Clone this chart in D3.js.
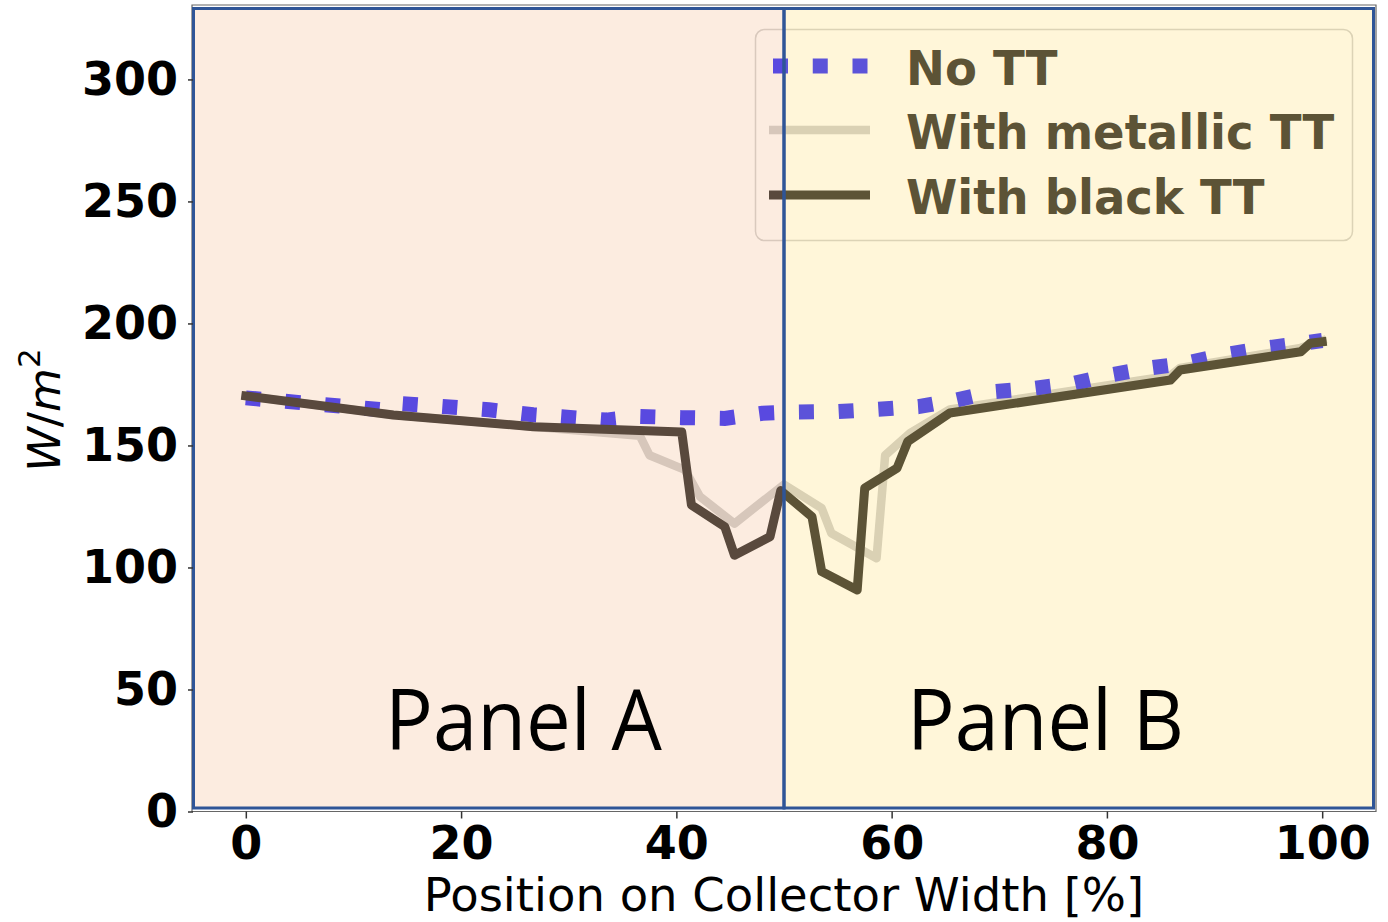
<!DOCTYPE html>
<html>
<head>
<meta charset="utf-8">
<script src="https://cdn.jsdelivr.net/npm/d3@7"></script>
<style>
  body { margin: 0; background: #fff; }
  svg { display: block; }
</style>
</head>
<body>
<script>
// Irradiance across the collector width (W/m²) for three tracking-tube setups
const noTTX    = [0, 12.8, 14, 22.6, 26.7, 33.5, 36.6, 40.5, 44.5, 48, 50, 55, 58.7, 62.5, 66, 69.4, 73.2, 77, 80.3, 83.7, 87.3, 90.8, 94.5, 98.2, 100];
const noTTY    = [169.5, 164.6, 167.3, 164.6, 162.6, 160.4, 161.9, 161.4, 161.1, 163.2, 163.6, 163.9, 164.8, 165.9, 168.6, 172, 173.4, 175.5, 178.9, 181.6, 183.7, 187.1, 189.8, 191.9, 193];

const metalX   = [0, 13.7, 26.7, 36.6, 37.5, 40.8, 42.2, 45.4, 46.8, 50, 53.5, 54.4, 58.6, 59.4, 61.7, 65.4, 85.9, 86.8, 98.0, 100];
const metalY   = [170.3, 162.5, 157.7, 154.0, 146.0, 140.0, 129.0, 118.0, 122.9, 134.0, 124.3, 114.0, 103.8, 146.0, 155.0, 164.8, 178.6, 181.8, 190.0, 193.0];

const blackX   = [0, 13.7, 26.7, 40.5, 41.4, 44.5, 45.4, 48.7, 49.7, 52.6, 53.5, 56.8, 57.5, 60.5, 61.5, 65.4, 85.9, 86.8, 98.0, 98.9, 100];
const blackY   = [170.3, 162.5, 157.7, 155.5, 125.6, 116.7, 105.0, 112.6, 131.5, 120.8, 98.3, 90.8, 132.5, 140.7, 151.6, 163.3, 176.8, 180.9, 188.4, 191.9, 192.5];

const xTicks = [0, 20, 40, 60, 80, 100];
const yTicks = [0, 50, 100, 150, 200, 250, 300];
const seriesNames = ["No TT", "With metallic TT", "With black TT"];
const panelNames = ["Panel A", "Panel B"];
const panelSplit = 50;   // the two panels meet at mid-width
const xLabel = "Position on Collector Width [%]";

const W = 1388, H = 922;
const svg = d3.select("body").append("svg").attr("width", W).attr("height", H);

const x = d3.scaleLinear().domain([-5, 105]).range([192, 1376]);
const y = d3.scaleLinear().domain([0, 330.5]).range([811.5, 5]);

const [xl, xr] = x.range();
const [yb, yt] = y.range();

// plot area
svg.append("rect").attr("x", xl).attr("y", yt).attr("width", xr - xl).attr("height", yb - yt)
  .attr("fill", "#fff");

const zip = (xs, ys) => xs.map((v, i) => [v, ys[i]]);
const line = d3.line().x(d => x(d[0])).y(d => y(d[1]));

// metallic tube
svg.append("path").datum(zip(metalX, metalY))
  .attr("d", line).attr("fill", "none")
  .attr("stroke", "#d4d4d4").attr("stroke-width", 8.5)
  .attr("stroke-linejoin", "round").attr("stroke-linecap", "square");

// no tube: dotted
svg.append("path").datum(zip(noTTX, noTTY))
  .attr("d", line).attr("fill", "none")
  .attr("stroke", "#4040ff").attr("stroke-width", 15)
  .attr("stroke-dasharray", "15 24.75");

// black tube
svg.append("path").datum(zip(blackX, blackY))
  .attr("d", line).attr("fill", "none")
  .attr("stroke", "#404040").attr("stroke-width", 9)
  .attr("stroke-linejoin", "round").attr("stroke-linecap", "square");

// legend
const lg = svg.append("g");
lg.append("rect").attr("x", 755.5).attr("y", 29.5).attr("width", 597).attr("height", 211)
  .attr("rx", 9).attr("fill", "#fff").attr("stroke", "#d6d6d6").attr("stroke-width", 1.5);
const legendRows = [
  { name: seriesNames[0], stroke: "#4040ff", w: 15, dash: "15 24.75", y: 66 },
  { name: seriesNames[1], stroke: "#d4d4d4", w: 8.5, dash: null, y: 130 },
  { name: seriesNames[2], stroke: "#404040", w: 9, dash: null, y: 195 }
];
legendRows.forEach((r, i) => {
  lg.append("line").attr("x1", i === 0 ? 773 : 769).attr("x2", 870)
    .attr("y1", r.y).attr("y2", r.y)
    .attr("stroke", r.stroke).attr("stroke-width", r.w)
    .attr("stroke-dasharray", r.dash).attr("stroke-linecap", "butt");
  lg.append("text").attr("transform", `translate(906,${r.y + 19}) scale(1,1.05)`)
    .attr("font-family", "DejaVu Sans").attr("font-weight", "bold").attr("font-size", 46.5)
    .attr("fill", "#404040").text(r.name);
});

// panel shading
const panels = [
  { x0: xl + 1.5, x1: x(panelSplit), fill: "#ED7D31" },
  { x0: x(panelSplit), x1: xr - 2.5, fill: "#FFC000" }
];
svg.selectAll("rect.panel").data(panels).join("rect").attr("class", "panel")
  .attr("x", d => d.x0).attr("y", yt + 3.5)
  .attr("width", d => d.x1 - d.x0).attr("height", yb - yt - 7)
  .attr("fill", d => d.fill).attr("fill-opacity", 0.15);

// spines
svg.append("path")
  .attr("d", `M${xl},${yt}H${xr}V${yb}H${xl}Z`)
  .attr("fill", "none").attr("stroke", "#666").attr("stroke-width", 1.2);
// panel outlines above the spines
svg.selectAll("rect.outline").data(panels).join("rect").attr("class", "outline")
  .attr("x", d => d.x0).attr("y", yt + 3.5)
  .attr("width", d => d.x1 - d.x0).attr("height", yb - yt - 7)
  .attr("fill", "none").attr("stroke", "#2F5597").attr("stroke-width", 3);

// axes
const xAxis = svg.append("g").attr("transform", `translate(0,${yb})`)
  .call(d3.axisBottom(x).tickValues(xTicks).tickSize(7).tickPadding(8).tickFormat(d3.format("d")));
const yAxis = svg.append("g").attr("transform", `translate(${xl + 1},0)`)
  .call(d3.axisLeft(y).tickValues(yTicks).tickSize(5).tickPadding(10).tickFormat(d3.format("d")));
[xAxis, yAxis].forEach(g => {
  g.select(".domain").remove();
  g.selectAll(".tick line").attr("stroke", "#333").attr("stroke-width", 1.5);
  g.selectAll(".tick text").attr("font-family", "DejaVu Sans").attr("font-weight", "bold")
    .attr("font-size", 46).attr("fill", "#000");
});

// axis titles
svg.append("text").attr("x", x(50)).attr("y", 911)
  .attr("text-anchor", "middle").attr("font-family", "DejaVu Sans").attr("font-size", 46.5)
  .attr("fill", "#000").text(xLabel);

const yl = svg.append("text").attr("transform", "translate(60,410) rotate(-90)")
  .attr("text-anchor", "middle").attr("font-family", "DejaVu Sans").attr("font-size", 45).attr("fill", "#000");
yl.append("tspan").attr("font-style", "italic").text("W");
yl.append("tspan").text("/");
yl.append("tspan").attr("font-style", "italic").text("m");
yl.append("tspan").attr("font-size", 31).attr("dy", -20).text("2");

// panel names
svg.selectAll("text.pname").data(panelNames).join("text").attr("class", "pname")
  .attr("x", (d, i) => i === 0 ? 385 : 907).attr("y", 750)
  .attr("textLength", 277).attr("lengthAdjust", "spacingAndGlyphs")
  .attr("font-family", "Open Sans").attr("font-size", 84).attr("fill", "#000")
  .text(d => d);
</script>
</body>
</html>
